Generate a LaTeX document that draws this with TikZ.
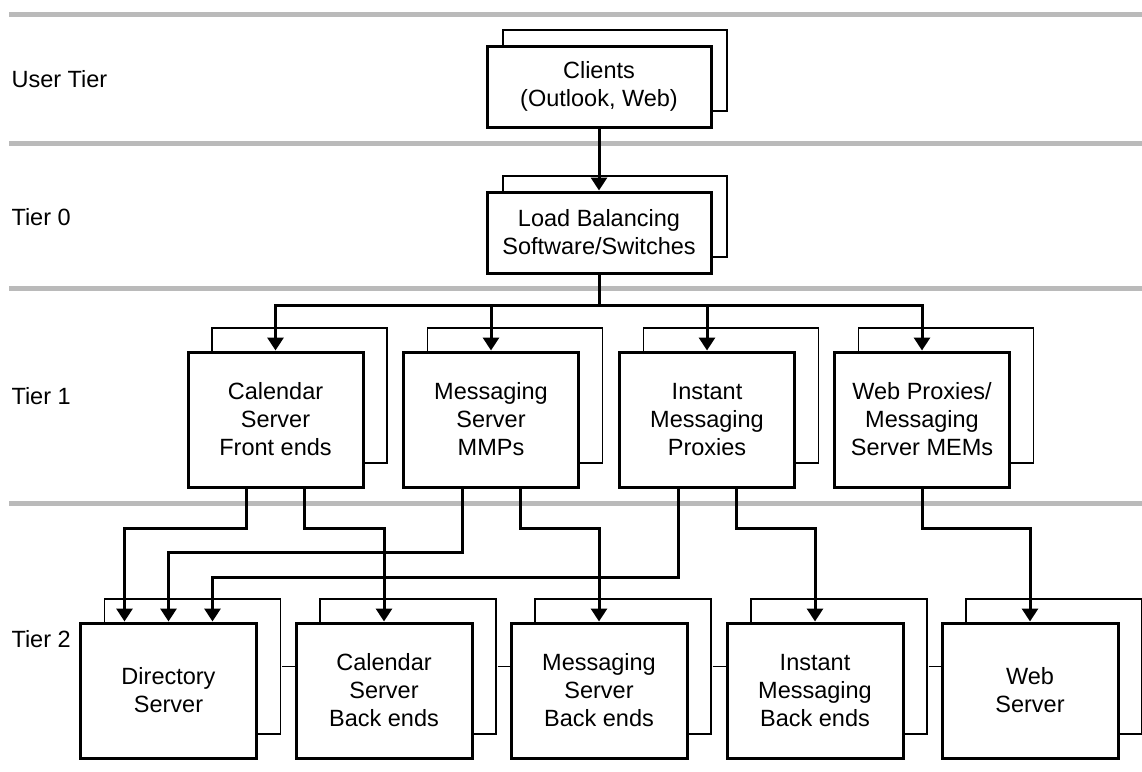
\documentclass[tikz,border=0pt]{standalone}
\usepackage{fontspec}
\setmainfont{Liberation Sans}
\usetikzlibrary{arrows.meta,shadows}
\begin{document}
\begin{tikzpicture}[x=1pt, y=-1pt,
    every node/.style={font=\fontsize{23.5}{28}\selectfont, align=center},
    tier/.style={anchor=west},
    unit/.style={shape=rectangle, draw, line width=3pt, fill=white, inner sep=0pt,
        copy shadow={shadow xshift=#1, shadow yshift=#1, line width=1.5pt, opacity=1}},
    topbox/.style={unit=16pt, minimum width=224pt, minimum height=81pt},
    midbox/.style={unit=24pt, minimum width=175pt, minimum height=135pt},
    lowbox/.style={unit=24pt, minimum width=176pt, minimum height=135pt},
    sep/.style={line width=5pt, draw=black!27},
    conn/.style={line width=3pt},
    arr/.style={line width=3pt, -{Triangle[width=16pt,length=13pt]}},
    link/.style={line width=1.8pt}]

    \useasboundingbox (0,0) rectangle (1142,771);

    \foreach \y in {14,143,288,503}
        \draw[sep] (9,\y) -- (1142,\y);

    \node[tier] (usertier) at (8,79) {User Tier};
    \node[tier] (tier0) at (8,217) {Tier 0};
    \node[tier] (tier1) at (8,396) {Tier 1};
    \node[tier] (tier2) at (8,639) {Tier 2};

    \node[topbox] (clients) at (599,86.5) {Clients\\(Outlook, Web)};
    \node[topbox] (load) at (599,232.5) {Load Balancing\\Software/Switches};

    \node[midbox] (calf) at (275.5,419.5) {Calendar\\Server\\Front ends};
    \node[midbox] (msgf) at (491,419.5) {Messaging\\Server\\MMPs};
    \node[midbox] (imf) at (707,419.5) {Instant\\Messaging\\Proxies};
    \node[midbox] (webf) at (922,419.5) {Web Proxies/\\Messaging\\Server MEMs};

    \node[lowbox] (dir) at (168.5,690.5) {Directory\\Server};
    \node[lowbox] (calb) at (384,690.5) {Calendar\\Server\\Back ends};
    \node[lowbox] (msgb) at (599,690.5) {Messaging\\Server\\Back ends};
    \node[lowbox] (imb) at (815,690.5) {Instant\\Messaging\\Back ends};
    \node[lowbox] (webb) at (1030,690.5) {Web\\Server};

    \draw[arr] (clients) -- (load);
    \coordinate (bus) at (599,305);
    \draw[conn] (load) -- (bus);
    \foreach \n in {calf,msgf,imf,webf}
        \draw[arr] (bus) -| (\n.north);

    \draw[arr] ([xshift=-29pt]calf.south) -- ++(0,40) -| ([xshift=-44pt]dir.north);
    \draw[arr] ([xshift=29pt]calf.south) -- ++(0,40) -| (calb.north);
    \draw[arr] ([xshift=-29pt]msgf.south) -- ++(0,64) -| (dir.north);
    \draw[arr] ([xshift=29pt]msgf.south) -- ++(0,40) -| (msgb.north);
    \draw[arr] ([xshift=-29pt]imf.south) -- ++(0,89) -| ([xshift=44pt]dir.north);
    \draw[arr] ([xshift=29pt]imf.south) -- ++(0,40) -| (imb.north);
    \draw[arr] (webf.south) -- ++(0,40) -| (webb.north);

    \foreach \a/\b in {dir/calb,calb/msgb,msgb/imb,imb/webb}
        \draw[link] ([shift={(24pt,24pt)}]\a.east) -- ([yshift=24pt]\b.west);

\end{tikzpicture}
\end{document}
